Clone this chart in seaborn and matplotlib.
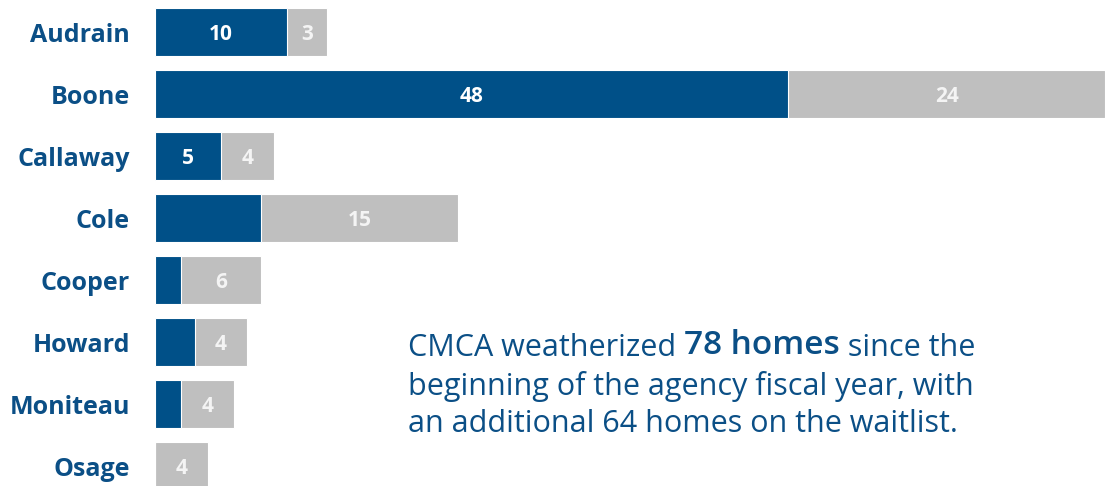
import matplotlib.pyplot as plt
import seaborn as sns
import pandas as pd

# counties and home counts
counties = ['Audrain', 'Boone', 'Callaway', 'Cole', 'Cooper', 'Howard', 'Moniteau', 'Osage']
weatherized = [10, 48, 5, 8, 2, 3, 2, 0]
waitlist = [3, 24, 4, 15, 6, 4, 4, 4]
# the original only prints the larger blue numbers
blue_labels = ['10', '48', '5', '', '', '', '', '']
waitlist_labels = ['3', '24', '4', '15', '6', '4', '4', '4']

BLUE = '#005088'
GRAY = '#bfbfbf'
TEXT = '#0b4f86'

df = pd.DataFrame({'county': counties, 'weatherized': weatherized, 'waitlist': waitlist})
df['total'] = df['weatherized'] + df['waitlist']

sns.set_style('white')
plt.rcParams['font.family'] = ['Open Sans', 'DejaVu Sans']

fig = plt.figure(figsize=(11.05, 4.86), dpi=100)
ax = fig.add_axes([155 / 1105, 0, 950 / 1105, 1])

sns.barplot(data=df, x='total', y='county', color=GRAY, width=0.77,
            saturation=1, orient='h', ax=ax, edgecolor='white', linewidth=0.8)
sns.barplot(data=df, x='weatherized', y='county', color=BLUE, width=0.77,
            saturation=1, orient='h', ax=ax, edgecolor='white', linewidth=0.8)

ax.set_xlim(0, 72)
ax.set_ylim(7.32, -0.516)
ax.set_xlabel('')
ax.set_ylabel('')
ax.set_xticks([])
sns.despine(ax=ax, left=True, bottom=True)
ax.tick_params(axis='y', length=0, pad=18)
for lab in ax.get_yticklabels():
    lab.set_fontsize(18)
    lab.set_fontweight('bold')
    lab.set_color(TEXT)

# numbers inside segments
for i, row in df.iterrows():
    if blue_labels[i]:
        ax.text(row['weatherized'] / 2, i + 0.04, blue_labels[i], ha='center', va='center',
                color='white', fontsize=15, fontweight='bold')
    ax.text(row['weatherized'] + row['waitlist'] / 2, i + 0.04, waitlist_labels[i],
            ha='center', va='center', color='#f4f4f4', fontsize=15, fontweight='bold')

# annotation text, built from pieces so "78 homes" can be bold
fig.canvas.draw()
renderer = fig.canvas.get_renderer()
x0 = 408 / 1105
t1 = fig.text(x0, 1 - 348 / 486, 'CMCA weatherized ', color=TEXT, fontsize=22, va='center')
bb = t1.get_window_extent(renderer)
t2 = fig.text(bb.x1 / 1105, 1 - 346 / 486, '78 homes', color=TEXT, fontsize=24,
              fontweight='semibold', va='center')
bb = t2.get_window_extent(renderer)
fig.text(bb.x1 / 1105, 1 - 348 / 486, ' since the', color=TEXT, fontsize=22, va='center')
fig.text(x0, 1 - 386 / 486, 'beginning of the agency fiscal year, with', color=TEXT,
         fontsize=22, va='center')
fig.text(x0, 1 - 424 / 486, 'an additional 64 homes on the waitlist.', color=TEXT,
         fontsize=22, va='center')

fig.savefig('out.png', dpi=100)
